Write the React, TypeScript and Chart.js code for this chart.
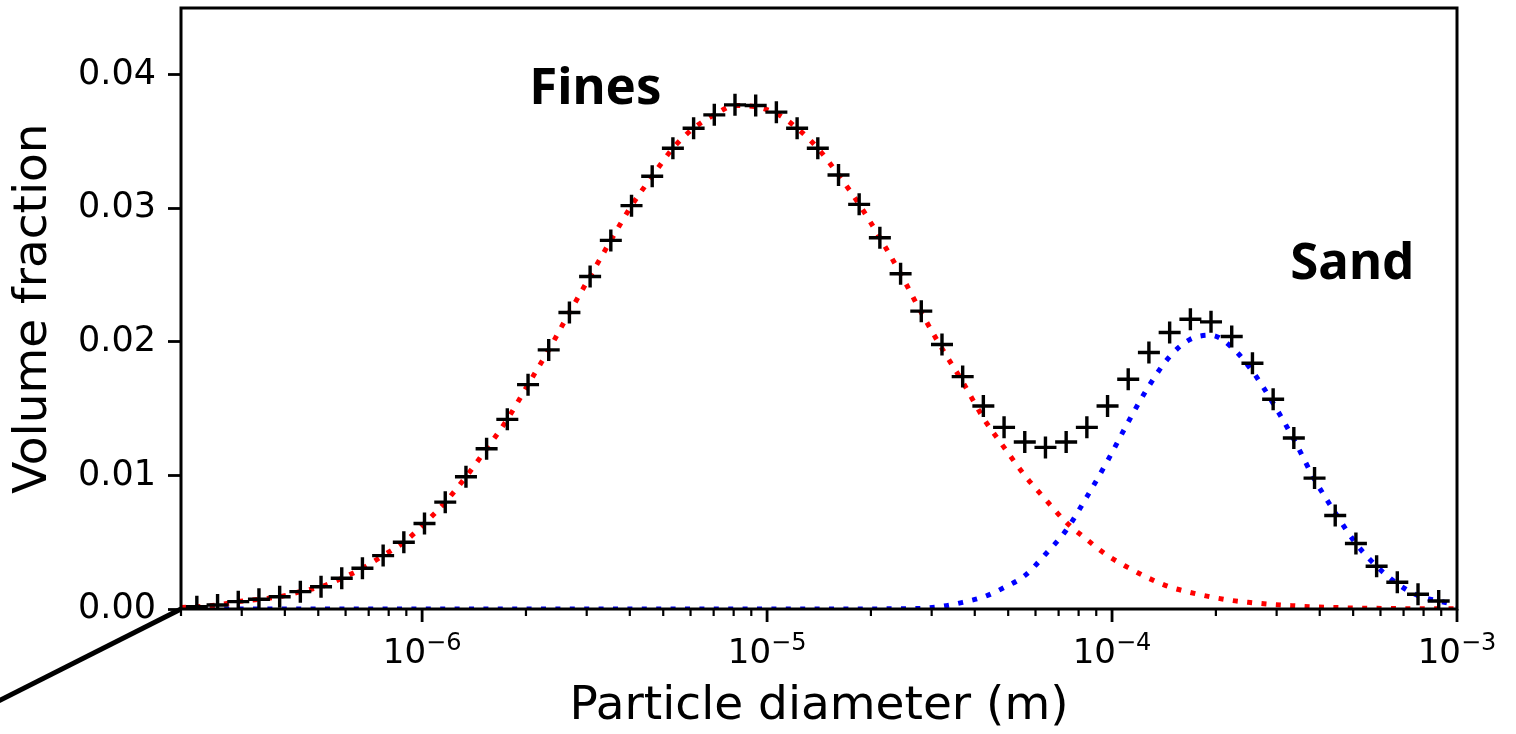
import React, { useEffect, useRef } from 'react';
import { Chart, registerables } from 'chart.js';

Chart.register(...registerables);

// Particle diameters of the measured size classes (m)
const particleDiameter = [
  2.223e-7, 2.553e-7, 2.931e-7, 3.365e-7, 3.864e-7, 4.436e-7, 5.093e-7, 5.848e-7, 6.714e-7, 7.709e-7,
  8.851e-7, 1.016e-6, 1.167e-6, 1.340e-6, 1.538e-6, 1.766e-6, 2.028e-6, 2.328e-6, 2.673e-6, 3.069e-6,
  3.524e-6, 4.046e-6, 4.645e-6, 5.333e-6, 6.124e-6, 7.031e-6, 8.072e-6, 9.268e-6, 1.064e-5, 1.222e-5,
  1.403e-5, 1.611e-5, 1.849e-5, 2.123e-5, 2.438e-5, 2.799e-5, 3.214e-5, 3.690e-5, 4.236e-5, 4.864e-5,
  5.585e-5, 6.412e-5, 7.362e-5, 8.453e-5, 9.705e-5, 1.114e-4, 1.279e-4, 1.469e-4, 1.687e-4, 1.936e-4,
  2.223e-4, 2.553e-4, 2.931e-4, 3.365e-4, 3.864e-4, 4.436e-4, 5.093e-4, 5.848e-4, 6.714e-4, 7.709e-4,
  8.851e-4,
];

// Measured volume fraction (black crosses)
const measuredFraction = [
  0.00017, 0.0003, 0.00055, 0.00073, 0.00092, 0.0013, 0.00167, 0.0023, 0.00305, 0.0040,
  0.0050, 0.0064, 0.0080, 0.0099, 0.0120, 0.0142, 0.0168, 0.0194, 0.0222, 0.0249,
  0.0276, 0.0302, 0.0324, 0.0345, 0.0360, 0.0370, 0.03775, 0.0377, 0.0372, 0.0360,
  0.0345, 0.0325, 0.0303, 0.0278, 0.0251, 0.0223, 0.0198, 0.0174, 0.0152, 0.0136,
  0.0125, 0.0121, 0.0125, 0.0136, 0.0152, 0.0172, 0.0192, 0.0207, 0.0217, 0.0215,
  0.0204, 0.0184, 0.0157, 0.0128, 0.0098, 0.0070, 0.0049, 0.0032, 0.0020, 0.0011,
  0.0006,
];

// Diameters for the fitted curves: axis ends plus the measured classes
const fitDiameter = [2.0e-7, ...particleDiameter, 1.0e-3];

// Fitted fines mode (red dotted)
const finesFit = [
  0.00012,
  0.00017, 0.0003, 0.00055, 0.00073, 0.00092, 0.0013, 0.00167, 0.0023, 0.00305, 0.0040,
  0.0050, 0.0064, 0.0080, 0.0099, 0.0120, 0.0142, 0.0168, 0.0194, 0.0222, 0.0249,
  0.0276, 0.0302, 0.0324, 0.0345, 0.0360, 0.0370, 0.0377, 0.0376, 0.0371, 0.0360,
  0.0345, 0.0325, 0.0303, 0.0278, 0.0251, 0.0222, 0.0195, 0.0170, 0.0143, 0.0121,
  0.0100, 0.0082, 0.0065, 0.0052, 0.0040, 0.0031, 0.0023, 0.00165, 0.00124, 0.0009,
  0.00064, 0.00047, 0.00033, 0.00024, 0.00016, 0.00011, 0.00007, 0.00005, 0.00003, 0.00002,
  0.00001,
  0.00001,
];

// Fitted sand mode (blue dotted)
const sandFit = [
  0,
  0, 0, 0, 0, 0, 0, 0, 0, 0, 0,
  0, 0, 0, 0, 0, 0, 0, 0, 0, 0,
  0, 0, 0, 0, 0, 0, 0, 0, 0, 0,
  0, 0, 0, 0.00001, 0.00002, 0.00005, 0.0002, 0.0005, 0.0009, 0.0016,
  0.0025, 0.0041, 0.0059, 0.0084, 0.0111, 0.0140, 0.0167, 0.0189, 0.0202, 0.0205,
  0.0196, 0.0178, 0.0154, 0.0127, 0.0097, 0.0072, 0.0049, 0.0032, 0.0019, 0.0010,
  0.0006,
  0.0003,
];

// Leader line leaving the lower-left corner of the axes
const leaderX = [5.9e-8, 2.0e-7];
const leaderY = [-0.0069, 0];

const yTickValues = [0, 0.01, 0.02, 0.03, 0.04];
const yTickLabels = ['0.00', '0.01', '0.02', '0.03', '0.04'];
const xMajorTicks = [1e-6, 1e-5, 1e-4, 1e-3];
const xMajorExponents = ['\u22126', '\u22125', '\u22124', '\u22123'];
const xMinorTicks = [
  2e-7, 3e-7, 4e-7, 5e-7, 6e-7, 7e-7, 8e-7, 9e-7,
  2e-6, 3e-6, 4e-6, 5e-6, 6e-6, 7e-6, 8e-6, 9e-6,
  2e-5, 3e-5, 4e-5, 5e-5, 6e-5, 7e-5, 8e-5, 9e-5,
  2e-4, 3e-4, 4e-4, 5e-4, 6e-4, 7e-4, 8e-4, 9e-4,
];

const annotationText = ['Fines', 'Sand'];
const annotationX = [3.18e-6, 4.97e-4];
const annotationY = [0.0378, 0.0247];

const overlayPlugin = {
  id: 'overlay',
  afterDatasetsDraw(chart: any) {
    const { ctx, chartArea, scales } = chart;
    const xs = scales.x;
    const ys = scales.y;
    ctx.save();
    // spines
    ctx.strokeStyle = '#000';
    ctx.lineWidth = 3;
    ctx.strokeRect(chartArea.left, chartArea.top, chartArea.right - chartArea.left, chartArea.bottom - chartArea.top);
    // x ticks
    const majorSet = new Set(xMajorTicks);
    for (const t of xs.ticks) {
      const px = xs.getPixelForValue(t.value);
      const major = majorSet.has(t.value);
      ctx.lineWidth = major ? 2.8 : 2.2;
      ctx.beginPath();
      ctx.moveTo(px, chartArea.bottom);
      ctx.lineTo(px, chartArea.bottom + (major ? 13 : 7));
      ctx.stroke();
    }
    // x tick labels 10^n
    ctx.fillStyle = '#000';
    ctx.textBaseline = 'alphabetic';
    ctx.textAlign = 'left';
    xMajorTicks.forEach((v, i) => {
      const px = xs.getPixelForValue(v);
      ctx.font = '34px "DejaVu Sans"';
      const w1 = ctx.measureText('10').width;
      ctx.font = '24px "DejaVu Sans"';
      const w2 = ctx.measureText(xMajorExponents[i]).width;
      const start = px - (w1 + w2) / 2;
      ctx.font = '34px "DejaVu Sans"';
      ctx.fillText('10', start, chartArea.bottom + 54);
      ctx.font = '24px "DejaVu Sans"';
      ctx.fillText(xMajorExponents[i], start + w1, chartArea.bottom + 41);
    });
    // annotations
    ctx.font = 'bold 51px "Noto Sans"';
    ctx.textAlign = 'center';
    annotationText.forEach((t, i) => {
      ctx.fillText(t, xs.getPixelForValue(annotationX[i]), ys.getPixelForValue(annotationY[i]));
    });
    ctx.restore();
  },
};

export default function App() {
  const ref = useRef<HTMLCanvasElement>(null);
  useEffect(() => {
    const toPts = (xa: number[], ya: number[]) => xa.map((x, i) => ({ x, y: ya[i] }));
    const chart = new Chart(ref.current as HTMLCanvasElement, {
      type: 'scatter',
      data: {
        datasets: [
          {
            label: 'Measured',
            data: toPts(particleDiameter, measuredFraction),
            pointStyle: 'cross',
            pointRadius: 11,
            pointBorderWidth: 3.4,
            borderColor: '#000',
            backgroundColor: '#000',
            showLine: false,
          },
          {
            label: 'Fines',
            data: toPts(fitDiameter, finesFit),
            showLine: true,
            borderColor: '#ff0000',
            borderWidth: 5,
            borderDash: [5, 9.4],
            borderCapStyle: 'butt',
            pointRadius: 0,
            cubicInterpolationMode: 'monotone',
            fill: false,
          },
          {
            label: 'Sand',
            data: toPts(fitDiameter, sandFit),
            showLine: true,
            borderColor: '#0000ff',
            borderWidth: 5,
            borderDash: [5, 9.4],
            borderCapStyle: 'butt',
            pointRadius: 0,
            cubicInterpolationMode: 'monotone',
            fill: false,
          },
          {
            label: 'Leader',
            data: toPts(leaderX, leaderY),
            showLine: true,
            borderColor: '#000',
            borderWidth: 5,
            pointRadius: 0,
            clip: false,
          } as any,
        ],
      },
      options: {
        responsive: false,
        devicePixelRatio: 1,
        animation: false,
        layout: { autoPadding: false, padding: { top: 8, right: 59, left: 0, bottom: 0 } },
        plugins: { legend: { display: false }, tooltip: { enabled: false } },
        scales: {
          x: {
            type: 'logarithmic',
            min: 2e-7,
            max: 1e-3,
            afterBuildTicks: (s: any) => {
              s.ticks = [...xMinorTicks, ...xMajorTicks].sort((a, b) => a - b).map((v) => ({ value: v }));
            },
            afterFit: (s: any) => {
              s.height = 125;
              s.paddingLeft = 0;
              s.paddingRight = 0;
            },
            ticks: { display: false },
            grid: { display: false },
            border: { display: false },
            title: {
              display: true,
              text: 'Particle diameter (m)',
              color: '#000',
              font: { family: 'DejaVu Sans', size: 47, lineHeight: 1 },
              padding: { top: 0, bottom: 4 },
            },
          },
          y: {
            type: 'linear',
            min: 0,
            max: 0.045,
            afterBuildTicks: (s: any) => {
              s.ticks = yTickValues.map((v) => ({ value: v }));
            },
            afterFit: (s: any) => {
              s.width = 181;
              s.paddingTop = 0;
              s.paddingBottom = 0;
            },
            ticks: {
              autoSkip: false,
              color: '#000',
              padding: 12,
              font: { family: 'DejaVu Sans', size: 35 },
              callback: (_v: any, i: number) => yTickLabels[i],
            },
            grid: {
              display: true,
              drawOnChartArea: false,
              drawTicks: true,
              tickLength: 13,
              tickWidth: 2.8,
              tickColor: '#000',
              color: '#000',
            },
            border: { display: false },
            title: {
              display: true,
              text: 'Volume fraction',
              color: '#000',
              font: { family: 'DejaVu Sans', size: 47, lineHeight: 1 },
              padding: { top: 10, bottom: 0 },
            },
          },
        },
      } as any,
      plugins: [overlayPlugin],
    });
    return () => chart.destroy();
  }, []);
  return (
    <div style={{ position: 'fixed', left: 0, top: 0, width: 1516, height: 734, background: '#fff' }}>
      <canvas ref={ref} width={1516} height={734} style={{ display: 'block', width: 1516, height: 734 }} />
    </div>
  );
}
